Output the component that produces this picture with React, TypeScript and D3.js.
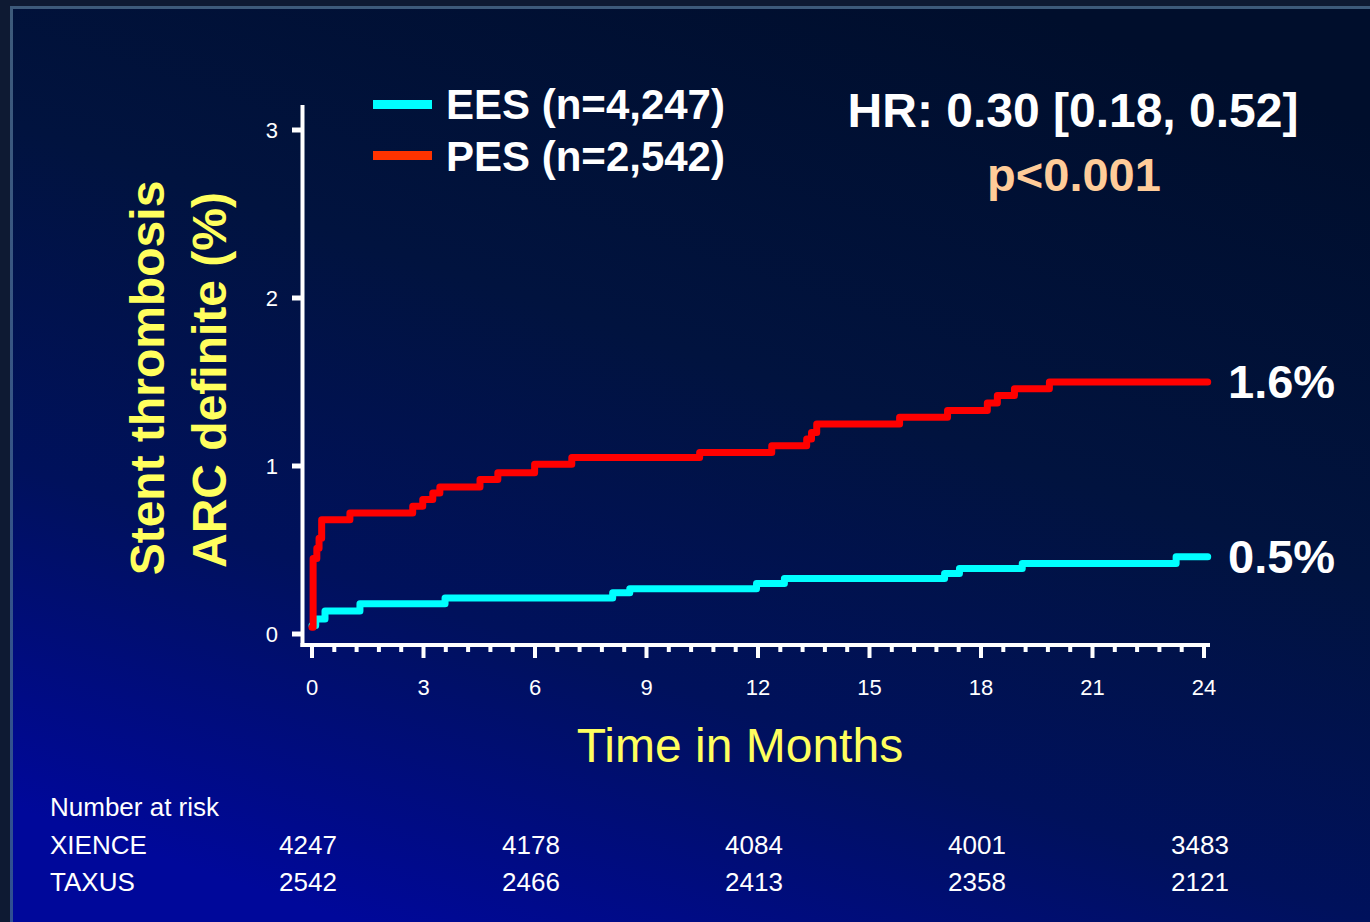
import React from "react";
import * as d3 from "d3";

const W = 1370;
const H = 922;

// Kaplan-Meier step data (months, cumulative %)
const eesMonths = [0, 0.1, 0.35, 1.29, 3.58, 8.09, 8.55, 11.96, 12.71, 17.02, 17.42, 19.11, 23.25, 24.1];
const eesPct = [0.05, 0.09, 0.137, 0.18, 0.215, 0.245, 0.27, 0.3, 0.33, 0.36, 0.39, 0.42, 0.46, 0.46];

const pesMonths = [0, 0.03, 0.13, 0.19, 0.26, 1.02, 2.71, 2.98, 3.25, 3.44, 4.52, 5.0, 5.99, 6.99, 10.43, 12.37, 13.31, 13.44, 13.58, 15.81, 17.1, 18.17, 18.44, 18.9, 19.84, 24.1];
const pesPct = [0.04, 0.45, 0.51, 0.57, 0.68, 0.72, 0.76, 0.8, 0.84, 0.875, 0.92, 0.96, 1.01, 1.05, 1.08, 1.12, 1.16, 1.2, 1.25, 1.29, 1.33, 1.375, 1.42, 1.46, 1.5, 1.5];

const xTicks = [0, 3, 6, 9, 12, 15, 18, 21, 24];
const yTicks = [0, 1, 2, 3];

const legendLabels = ["EES (n=4,247)", "PES (n=2,542)"];
const endLabels = ["0.5%", "1.6%"];

const riskMonths = [0, 6, 12, 18, 24];
const riskGroups = ["XIENCE", "TAXUS"];
const riskXience = [4247, 4178, 4084, 4001, 3483];
const riskTaxus = [2542, 2466, 2413, 2358, 2121];

const FONT = "'Liberation Sans', Arial, Helvetica, sans-serif";
const YELLOW = "#ffff5e";

export default function App() {
  const x = d3.scaleLinear().domain([0, 24]).range([312, 1204]);
  const y = d3.scaleLinear().domain([0, 3]).range([634, 130]);

  const line = d3
    .line<[number, number]>()
    .x((d) => x(d[0]))
    .y((d) => y(d[1]))
    .curve(d3.curveStepAfter);

  const ees = eesMonths.map((m, i) => [m, eesPct[i]] as [number, number]);
  const pes = pesMonths.map((m, i) => [m, pesPct[i]] as [number, number]);

  const minorTicks = d3.range(0, 41).map((i) => i * 0.6);

  const axisY = 645;
  const axisX = 302.5;

  return (
    <div style={{ position: "absolute", left: 0, top: 0 }}>
      <svg width={W} height={H} style={{ display: "block" }} fontFamily={FONT}>
        <defs>
          <linearGradient id="bg" x1="0.75" y1="0" x2="0.25" y2="1">
            <stop offset="0" stopColor="#000e2c" />
            <stop offset="0.4" stopColor="#01133f" />
            <stop offset="0.7" stopColor="#00115c" />
            <stop offset="1" stopColor="#00089a" />
          </linearGradient>
          <linearGradient id="frame" x1="0" y1="0" x2="0" y2="1">
            <stop offset="0" stopColor="#3d5a7a" />
            <stop offset="1" stopColor="#2f4f92" />
          </linearGradient>
        </defs>
        <rect x={0} y={0} width={W} height={H} fill="#0e1a33" />
        <rect x={10} y={6} width={W - 10} height={H - 6} fill="url(#frame)" />
        <rect x={13} y={9} width={W - 13} height={H - 9} fill="url(#bg)" />

        {/* Axes */}
        <line x1={axisX} x2={axisX} y1={105} y2={axisY + 2} stroke="#fff" strokeWidth={4} />
        <line x1={axisX - 2} x2={1210} y1={axisY} y2={axisY} stroke="#fff" strokeWidth={4} />
        {yTicks.map((t) => (
          <g key={"yt" + t}>
            <line x1={292} x2={axisX} y1={y(t)} y2={y(t)} stroke="#fff" strokeWidth={5} />
            <text x={278} y={y(t) + 8} fill="#fff" fontSize={22} textAnchor="end">
              {t}
            </text>
          </g>
        ))}
        {minorTicks.map((t, i) => (
          <line
            key={"mt" + i}
            x1={x(t)}
            x2={x(t)}
            y1={axisY}
            y2={i % 5 === 0 ? 658 : 652}
            stroke="#fff"
            strokeWidth={4}
          />
        ))}
        {xTicks.map((t) => (
          <text key={"xt" + t} x={x(t)} y={695} fill="#fff" fontSize={22} textAnchor="middle">
            {t}
          </text>
        ))}

        {/* Curves */}
        <path d={line(ees) || ""} fill="none" stroke="#00ffff" strokeWidth={7} strokeLinejoin="round" strokeLinecap="round" />
        <path d={line(pes) || ""} fill="none" stroke="#ff0000" strokeWidth={7} strokeLinejoin="round" strokeLinecap="round" />

        {/* End labels */}
        <text x={1228} y={y(eesPct[eesPct.length - 1]) + 16} fill="#fff" fontSize={47} fontWeight="bold">
          {endLabels[0]}
        </text>
        <text x={1228} y={y(pesPct[pesPct.length - 1]) + 16} fill="#fff" fontSize={47} fontWeight="bold">
          {endLabels[1]}
        </text>

        {/* Legend */}
        <rect x={373} y={100} width={59} height={9} fill="#00ffff" />
        <text x={446} y={119} fill="#fff" fontSize={42} fontWeight="bold">
          {legendLabels[0]}
        </text>
        <rect x={373} y={151} width={59} height={9} fill="#ff3300" />
        <text x={446} y={171} fill="#fff" fontSize={42} fontWeight="bold">
          {legendLabels[1]}
        </text>

        {/* HR */}
        <text x={1073} y={127} fill="#fff" fontSize={48} fontWeight="bold" textAnchor="middle">
          HR: 0.30 [0.18, 0.52]
        </text>
        <text x={1074} y={191} fill="#ffcc99" fontSize={47} fontWeight="bold" textAnchor="middle">
          p&lt;0.001
        </text>

        {/* Axis titles */}
        <text transform="translate(164,378) rotate(-90)" fill={YELLOW} fontSize={48} fontWeight="bold" textAnchor="middle">
          Stent thrombosis
        </text>
        <text transform="translate(226,380) rotate(-90)" fill={YELLOW} fontSize={48} fontWeight="bold" textAnchor="middle">
          ARC definite (%)
        </text>
        <text x={740} y={762} fill={YELLOW} fontSize={48} textAnchor="middle">
          Time in Months
        </text>

        {/* Number at risk */}
        <text x={50} y={816} fill="#fff" fontSize={26}>
          Number at risk
        </text>
        {riskGroups.map((g, gi) => {
          const vals = gi === 0 ? riskXience : riskTaxus;
          const by = gi === 0 ? 854 : 891;
          return (
            <g key={g}>
              <text x={50} y={by} fill="#fff" fontSize={26}>
                {g}
              </text>
              {vals.map((v, i) => (
                <text key={i} x={x(riskMonths[i]) - 4} y={by} fill="#fff" fontSize={26} textAnchor="middle">
                  {v}
                </text>
              ))}
            </g>
          );
        })}
      </svg>
    </div>
  );
}
